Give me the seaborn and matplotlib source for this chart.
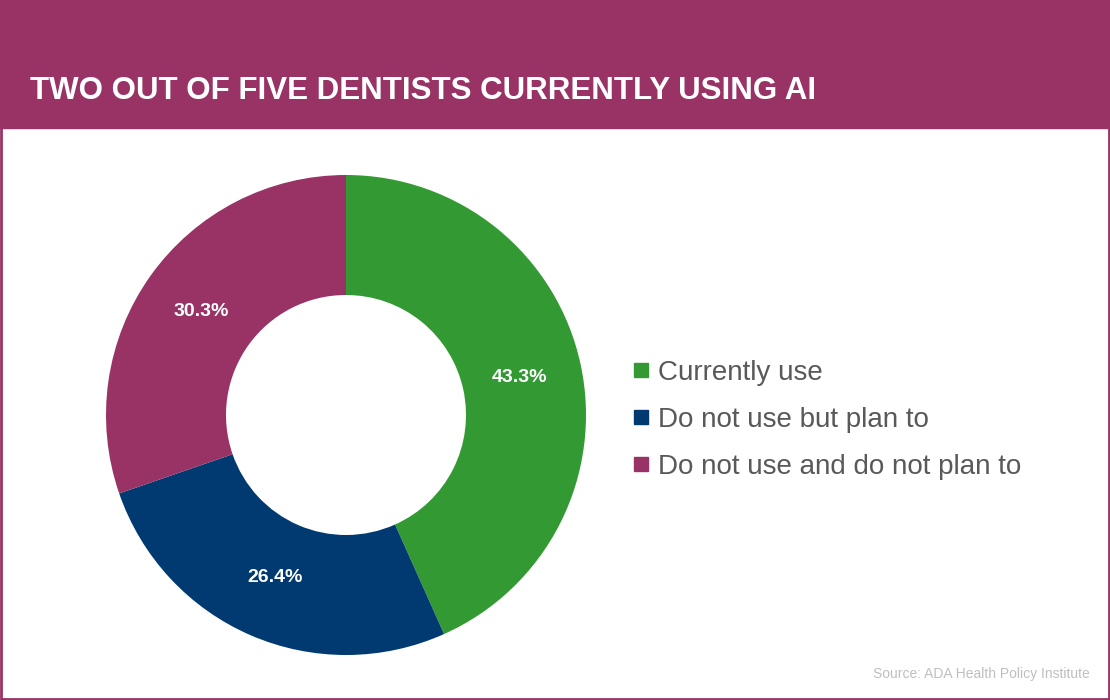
import matplotlib
matplotlib.use("Agg")
import matplotlib.pyplot as plt
import seaborn as sns
from matplotlib.patches import Rectangle
from matplotlib.lines import Line2D

categories = ["Currently use", "Do not use but plan to", "Do not use and do not plan to"]
values = [43.3, 26.4, 30.3]
colors = ["#339933", "#003A70", "#993366"]
title = "TWO OUT OF FIVE DENTISTS CURRENTLY USING AI"
source = "Source: ADA Health Policy Institute"

sns.set_theme(style="white")
plt.rcParams['font.family'] = ['Liberation Sans', 'DejaVu Sans']
W, H = 1110, 700
fig = plt.figure(figsize=(W/100, H/100), dpi=100)
fig.patch.set_facecolor("white")

fig.add_artist(Rectangle((0, 1-128/H), 1, 128/H, transform=fig.transFigure, color="#993366", zorder=0))
fig.add_artist(Rectangle((1/W, 1/H), 1-2/W, 1-2/H, transform=fig.transFigure, fill=False, ec="#993366", lw=2))
fig.text(30/W, 1-91/H, title, color="white", fontsize=22.5, fontweight="bold", va="center", ha="left")

ax = fig.add_axes([106/W, (H-655)/H, 480/W, 480/H])
wedges, texts, autotexts = ax.pie(values, colors=colors, startangle=90, counterclock=False,
    autopct="%.1f%%", pctdistance=0.74,
    wedgeprops=dict(width=0.5, edgecolor="none"),
    textprops=dict(color="white", fontsize=14, fontweight="bold"))
ax.set_xlim(-1, 1)
ax.set_ylim(-1, 1)
ax.set_aspect("equal")

handles = [Line2D([0], [0], marker="s", linestyle="none", markersize=10, markerfacecolor=c, markeredgecolor=c) for c in colors]
fig.legend(handles, categories, loc="center left", bbox_to_anchor=(622/W, 1-420/H), frameon=False,
           fontsize=20, labelcolor="#595959", handletextpad=-0.1, handlelength=1.4,
           labelspacing=0.75, borderaxespad=0, borderpad=0)

fig.text(1090/W, 1-674/H, source, color="#BFBFBF", fontsize=10, ha="right", va="center")
fig.savefig("out.png", dpi=100)
